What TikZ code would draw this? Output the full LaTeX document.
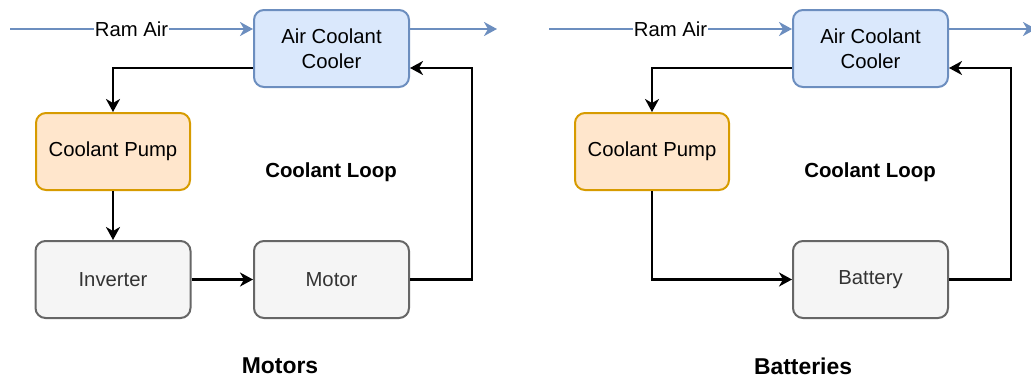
\documentclass[tikz,border=0pt]{standalone}
\usepackage{fontspec}
\setmainfont{Liberation Sans}
\usetikzlibrary{arrows.meta,positioning}
\definecolor{blueFill}{HTML}{DAE8FC}
\definecolor{blueLine}{HTML}{6C8EBF}
\definecolor{orangeFill}{HTML}{FFE6CC}
\definecolor{orangeLine}{HTML}{D79B00}
\definecolor{greyFill}{HTML}{F5F5F5}
\definecolor{greyLine}{HTML}{666666}
\definecolor{greyText}{HTML}{333333}
\tikzset{
  x=1pt, y=-1pt,
  every node/.style={font=\fontsize{20.3}{25}\selectfont},
  unit/.style={rounded corners=10pt, line width=2pt, minimum width=155pt,
    minimum height=77pt, align=center, inner sep=0pt},
  cooler/.style={unit, draw=blueLine, fill=blueFill},
  pumpbox/.style={unit, draw=orangeLine, fill=orangeFill, minimum width=154pt},
  part/.style={unit, draw=greyLine, fill=greyFill, text=greyText},
  tip/.style={-{Stealth[length=13pt,width=14pt,inset=4pt]}},
  flow/.style={tip, line width=2.2pt, black},
  air/.style={tip, line width=2.2pt, blueLine},
  airlabel/.style={fill=white, inner sep=1pt, text=black},
  heading/.style={font=\fontsize{20.4}{25}\selectfont\bfseries},
  title/.style={font=\fontsize{22.9}{27}\selectfont\bfseries},
}
\begin{document}
\begin{tikzpicture}
\useasboundingbox (0,0) rectangle (1031,378);

% ---- motors loop ----
\node[cooler]  (aca)   at (331.5,48.5)  {Air Coolant\\Cooler};
\node[pumpbox] (pumpa) at (113,151.5)   {Coolant Pump};
\node[part]    (inv)   at (113,279.5)   {Inverter};
\node[part]    (motor) at (331.5,279.5) {Motor};
\node[heading] (loopa) at (331,172)     {Coolant Loop};
\node[title]   (mot)   at (280,366)     {Motors};

\coordinate (aira)   at (10,29);
\coordinate (outa)   at (497,29);
\coordinate (turna)  at (472,68);

\draw[air] (aira) -- node[airlabel] {Ram Air} ([yshift=19.5pt]aca.west);
\draw[air] ([yshift=19.5pt]aca.east) -- (outa);
\draw[flow] ([yshift=-19.5pt]aca.west) -| (pumpa.north);
\draw[flow] (pumpa) -- (inv);
\draw[flow] (inv) -- (motor);
\draw[flow] (motor.east) -| (turna) -- ([yshift=-19.5pt]aca.east);

% ---- batteries loop ----
\node[cooler]  (acb)   at (870.5,48.5)  {Air Coolant\\Cooler};
\node[pumpbox] (pumpb) at (652,151.5)   {Coolant Pump};
\node[part]    (batt)  at (870.5,279.5) {Battery};
\node[heading] (loopb) at (870,172)     {Coolant Loop};
\node[title]   (bat)   at (803,366)     {Batteries};

\coordinate (airb)   at (549,29);
\coordinate (outb)   at (1036,29);
\coordinate (turnb)  at (1011,68);

\draw[air] (airb) -- node[airlabel] {Ram Air} ([yshift=19.5pt]acb.west);
\draw[air] ([yshift=19.5pt]acb.east) -- (outb);
\draw[flow] ([yshift=-19.5pt]acb.west) -| (pumpb.north);
\draw[flow] (pumpb.south) |- (batt.west);
\draw[flow] (batt.east) -| (turnb) -- ([yshift=-19.5pt]acb.east);
\end{tikzpicture}
\end{document}
